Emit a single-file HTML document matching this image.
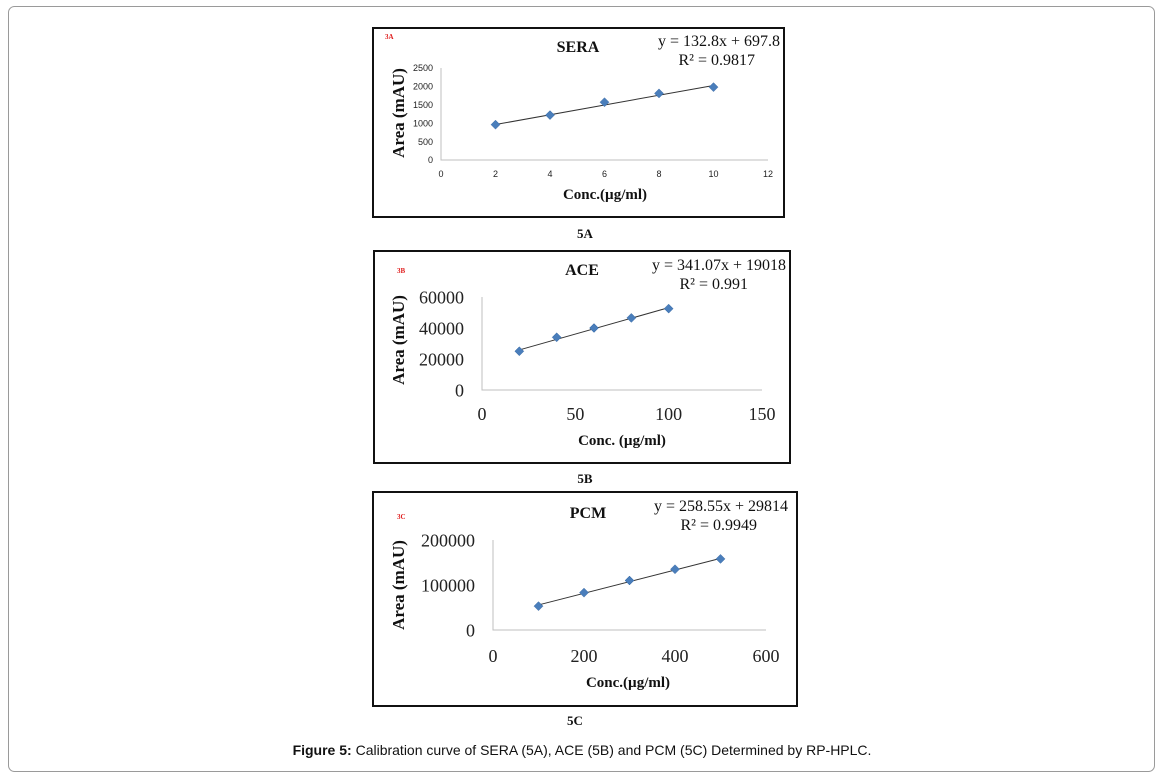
<!DOCTYPE html>
<html><head><meta charset="utf-8"><style>
html,body{margin:0;padding:0;background:#fff;}
svg{display:block;}
.sf{font-family:"Liberation Serif",serif;}
.ss{font-family:"Liberation Sans",sans-serif;}
</style></head><body>
<svg id="fig" width="1163" height="778" viewBox="0 0 1163 778">
<rect x="8.5" y="6.5" width="1146" height="765" rx="6" fill="#fff" stroke="#9a9a9a" stroke-width="1"/>
<text x="582" y="755" text-anchor="middle" class="ss" font-size="14" fill="#111"><tspan font-weight="bold">Figure 5:</tspan> Calibration curve of SERA (5A), ACE (5B) and PCM (5C) Determined by RP-HPLC.</text>
<g id="charts"></g>
</svg>
<script>
// Panel A (SERA)
const xA = [2, 4, 6, 8, 10];
const yA = [960, 1220, 1570, 1810, 1980];
const xTicksA = [0, 2, 4, 6, 8, 10, 12];
const yTicksA = [0, 500, 1000, 1500, 2000, 2500];
const fitA = [132.8, 697.8];
// Panel B (ACE)
const xB = [20, 40, 60, 80, 100];
const yB = [25000, 34000, 40000, 46500, 52500];
const xTicksB = [0, 50, 100, 150];
const yTicksB = [0, 20000, 40000, 60000];
const fitB = [341.07, 19018];
// Panel C (PCM)
const xC = [100, 200, 300, 400, 500];
const yC = [53000, 83000, 110000, 135000, 158000];
const xTicksC = [0, 200, 400, 600];
const yTicksC = [0, 100000, 200000];
const fitC = [258.55, 29814];

const NS = "http://www.w3.org/2000/svg";
const root = document.getElementById('charts');
function mk(tag, attrs, parent, txt){
  const e = document.createElementNS(NS, tag);
  for (const k in attrs) e.setAttribute(k, attrs[k]);
  if (txt !== undefined) e.textContent = txt;
  (parent || root).appendChild(e);
  return e;
}
function panel(cfg, xs, ys, xt, yt, fit){
  const g = mk('g', {});
  
  
  const box = mk('rect', {x:cfg.box[0], y:cfg.box[1], width:cfg.box[2], height:cfg.box[3], fill:'#fff', stroke:'#111', 'stroke-width':2}, g);
  
  
  const xmax = xt[xt.length-1], ymax = yt[yt.length-1];
  const X = v => cfg.x0 + (v / xmax) * (cfg.x1 - cfg.x0);
  const Y = v => cfg.y0 - (v / ymax) * (cfg.y0 - cfg.y1);
  const ax = mk('path', {d:`M${cfg.x0},${cfg.y1}V${cfg.y0}H${cfg.x1}`, fill:'none', stroke:'#bfbfbf', 'stroke-width':1}, g);
  
  
  yt.forEach(v => {
    const t = mk('text', {x:cfg.x0 - cfg.ylg, y:Y(v) + cfg.tfs*0.35, 'text-anchor':'end', 'font-size':cfg.tfs, fill:'#222', class:cfg.tcls}, g, String(v));
    
    
  });
  xt.forEach(v => {
    const t = mk('text', {x:X(v), y:cfg.y0 + cfg.xlg, 'text-anchor':'middle', 'font-size':cfg.tfs, fill:'#222', class:cfg.tcls}, g, String(v));
    
    
  });
  const xa = xs[0], xb = xs[xs.length-1];
  const tl = mk('line', {x1:X(xa), y1:Y(fit[0]*xa+fit[1]), x2:X(xb), y2:Y(fit[0]*xb+fit[1]), stroke:'#333', 'stroke-width':1}, g);
  
  
  xs.forEach((xv, i) => {
    const cx = X(xv), cy = Y(ys[i]), r = 4.5;
    const p = mk('path', {d:`M${cx},${cy-r}L${cx+r},${cy}L${cx},${cy+r}L${cx-r},${cy}Z`, fill:'#4a7ebb', stroke:'#3a6aa5', 'stroke-width':0.5}, g);
    
    
  });
  const ti = mk('text', {x:cfg.title[1], y:cfg.title[2], 'text-anchor':'middle', 'font-size':16, 'font-weight':'bold', class:'sf', fill:'#111'}, g, cfg.title[0]);
  
  
  const e1 = mk('text', {x:cfg.eq[0], y:cfg.eq[1], 'text-anchor':'end', 'font-size':16, class:'sf', fill:'#111'}, g, `y = ${fit[0]}x + ${fit[1]}`);
  
  
  const e2 = mk('text', {x:cfg.eq[2], y:cfg.eq[1] + 19, 'text-anchor':'end', 'font-size':16, class:'sf', fill:'#111'}, g, `R² = ${cfg.r2}`);
  
  
  const lb = mk('text', {x:cfg.tag[1], y:cfg.tag[2], 'font-size':7, 'font-weight':'bold', class:'sf', fill:'#e02020'}, g, cfg.tag[0]);
  
  
  const yl = mk('text', {x:0, y:0, transform:`translate(${cfg.yl[0]},${cfg.yl[1]}) rotate(-90)`, 'text-anchor':'middle', 'font-size':17, 'font-weight':'bold', class:'sf', fill:'#111'}, g, 'Area (mAU)');
  
  
  const xl = mk('text', {x:cfg.xl[1], y:cfg.xl[2], 'text-anchor':'middle', 'font-size':15, 'font-weight':'bold', class:'sf', fill:'#111'}, g, cfg.xl[0]);
  
  
  const sub = mk('text', {x:cfg.sub[1], y:cfg.sub[2], 'text-anchor':'middle', 'font-size':13, 'font-weight':'bold', class:'sf', fill:'#111'}, g, cfg.sub[0]);
  
  
}
panel({name:'chart-sera', box:[373,28,411,189], x0:441, x1:768, y0:160, y1:68, tfs:9, tcls:'ss', ylg:8, xlg:17,
  title:['SERA',578,52], eq:[780,46,755], r2:'0.9817', tag:['3A',385,39], yl:[404,113], xl:['Conc.(µg/ml)',605,199], sub:['5A',585,238]},
  xA, yA, xTicksA, yTicksA, fitA);
panel({name:'chart-ace', box:[374,251,416,212], x0:482, x1:762, y0:390, y1:297, tfs:18, tcls:'sf', ylg:18, xlg:30,
  title:['ACE',582,275], eq:[786,270,748], r2:'0.991', tag:['3B',397,273], yl:[404,340], xl:['Conc. (µg/ml)',622,445], sub:['5B',585,483]},
  xB, yB, xTicksB, yTicksB, fitB);
panel({name:'chart-pcm', box:[373,492,424,214], x0:493, x1:766, y0:630, y1:540, tfs:18, tcls:'sf', ylg:18, xlg:32,
  title:['PCM',588,518], eq:[788,511,757], r2:'0.9949', tag:['3C',397,519], yl:[404,585], xl:['Conc.(µg/ml)',628,687], sub:['5C',575,725]},
  xC, yC, xTicksC, yTicksC, fitC);
</script>
</body></html>
